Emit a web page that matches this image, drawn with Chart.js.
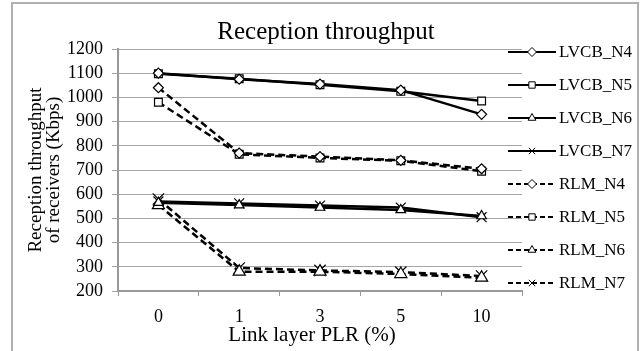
<!DOCTYPE html>
<html>
<head>
<meta charset="utf-8">
<script src="https://cdn.jsdelivr.net/npm/chart.js@4.4.0/dist/chart.umd.min.js"></script>
<style>
  html, body { margin: 0; padding: 0; background: #fff; }
  canvas { display: block; }
</style>
</head>
<body>
<canvas id="myChart" width="641" height="351"></canvas>
<script>
// data
var plrLabels = ['0', '1', '3', '5', '10'];
var seriesNames = ['LVCB_N4', 'LVCB_N5', 'LVCB_N6', 'LVCB_N7', 'RLM_N4', 'RLM_N5', 'RLM_N6', 'RLM_N7'];
var lvcbN4 = [1100, 1075, 1055, 1030, 930];
var lvcbN5 = [1098, 1077, 1052, 1025, 985];
var lvcbN6 = [565, 555, 545, 535, 510];
var lvcbN7 = [570, 562, 553, 545, 505];
var rlmN4 = [1040, 770, 755, 740, 705];
var rlmN5 = [980, 765, 750, 738, 695];
var rlmN6 = [555, 280, 280, 270, 255];
var rlmN7 = [580, 295, 285, 278, 262];
var yMin = 200, yMax = 1200, yStep = 100;

var serif = '"Liberation Serif", "Times New Roman", serif';
Chart.defaults.font.family = serif;
Chart.defaults.color = '#000';

var ctx = document.getElementById('myChart').getContext('2d');

function series(name, values, style, dashed, radius) {
  return {
    label: name,
    data: values,
    borderColor: '#000',
    borderWidth: 2.5,
    borderDash: dashed ? [7, 4] : [],
    fill: false,
    tension: 0,
    pointStyle: style,
    pointRadius: radius,
    pointBackgroundColor: '#fff',
    pointBorderColor: '#000',
    pointBorderWidth: 1.2
  };
}

var datasets = [
  series(seriesNames[0], lvcbN4, 'rectRot', false, 5),
  series(seriesNames[1], lvcbN5, 'rect', false, 5.5),
  series(seriesNames[2], lvcbN6, 'triangle', false, 5.5),
  series(seriesNames[3], lvcbN7, 'crossRot', false, 7),
  series(seriesNames[4], rlmN4, 'rectRot', true, 5),
  series(seriesNames[5], rlmN5, 'rect', true, 5.5),
  series(seriesNames[6], rlmN6, 'triangle', true, 7),
  series(seriesNames[7], rlmN7, 'crossRot', true, 8)
];

// title, x title, legend and frame drawn by hand
var decorations = {
  id: 'decorations',
  beforeDraw: function(chart) {
    var c = chart.ctx;
    c.save();
    c.fillStyle = '#fff';
    c.fillRect(0, 0, chart.width, chart.height);
    c.restore();
  },
  afterDraw: function(chart) {
    var c = chart.ctx;
    c.save();
    c.fillStyle = '#000';
    c.textAlign = 'center';
    c.textBaseline = 'alphabetic';
    c.font = '25px ' + serif;
    c.fillText('Reception throughput', 326, 39);
    c.font = '21px ' + serif;
    c.fillText('Link layer PLR (%)', 312, 341);

    chart.data.datasets.forEach(function(ds, i) {
      var y = 52 + 33 * i;
      c.strokeStyle = '#000';
      c.lineWidth = 2;
      c.setLineDash(ds.borderDash.length ? [5, 3] : []);
      c.beginPath();
      c.moveTo(508, y);
      c.lineTo(556, y);
      c.stroke();
      c.setLineDash([]);
      c.fillStyle = '#fff';
      c.lineWidth = 1;
      Chart.helpers.drawPoint(c, { pointStyle: ds.pointStyle, radius: 4.5, rotation: 0, borderWidth: 1 }, 532, y);
      c.fillStyle = '#000';
      c.textAlign = 'left';
      c.textBaseline = 'middle';
      c.font = '17px ' + serif;
      c.fillText(ds.label, 559, y + 1);
    });

    c.strokeStyle = '#b0b0b0';
    c.lineWidth = 2;
    c.strokeRect(12, 3, 626, 360);
    c.restore();
  }
};

var myChart = new Chart(ctx, {
  type: 'line',
  data: { labels: plrLabels, datasets: datasets },
  plugins: [decorations],
  options: {
    responsive: false,
    animation: false,
    devicePixelRatio: 1,
    layout: { padding: { left: 12, right: 119, top: 49, bottom: 0 } },
    plugins: {
      legend: { display: false },
      title: { display: false },
      tooltip: { enabled: false }
    },
    scales: {
      x: {
        offset: true,
        afterFit: function(scale) { scale.height = 60; },
        grid: { drawOnChartArea: false, drawTicks: true, tickLength: 5, color: '#999', offset: true },
        border: { display: true, color: '#999', width: 2 },
        ticks: { padding: 10, font: { size: 18 }, color: '#000', maxRotation: 0 }
      },
      y: {
        min: yMin,
        max: yMax,
        afterFit: function(scale) { scale.width = 106; },
        grid: { color: '#a6a6a6', lineWidth: 1, tickLength: 6 },
        border: { display: true, color: '#999', width: 2 },
        ticks: {
          stepSize: yStep,
          autoSkip: false,
          padding: 9,
          font: { size: 18 },
          color: '#000',
          callback: function(value) { return String(value); }
        },
        title: {
          display: true,
          text: ['Reception throughput', 'of receivers (Kbps)'],
          font: { size: 19, lineHeight: 0.95 },
          padding: { top: 15, bottom: 0 },
          color: '#000'
        }
      }
    }
  }
});
</script>
</body>
</html>
